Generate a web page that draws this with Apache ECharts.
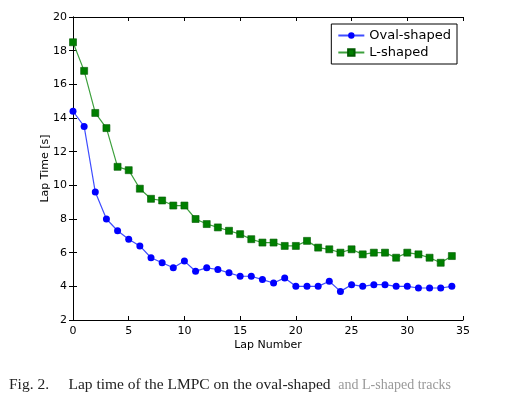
<!DOCTYPE html>
<html>
<head>
<meta charset="utf-8">
<script src="https://cdn.jsdelivr.net/npm/echarts@6/dist/echarts.min.js"></script>
<style>
  html, body { margin: 0; padding: 0; background: #fff; }
  #main { width: 517px; height: 404px; }
</style>
</head>
<body>
<div id="main"></div>
<script>
var laps = []
for (var i = 0; i <= 34; i++) laps.push(i)

var oval = [14.4, 13.5, 9.6, 8.0, 7.3, 6.8, 6.4, 5.7, 5.4, 5.1,
            5.5, 4.9, 5.1, 5.0, 4.8, 4.6, 4.6, 4.4, 4.2, 4.5,
            4.0, 4.0, 4.0, 4.3, 3.7, 4.1, 4.0, 4.1, 4.1, 4.0,
            4.0, 3.9, 3.9, 3.9, 4.0]
var lshape = [18.5, 16.8, 14.3, 13.4, 11.1, 10.9, 9.8, 9.2, 9.1, 8.8,
              8.8, 8.0, 7.7, 7.5, 7.3, 7.1, 6.8, 6.6, 6.6, 6.4,
              6.4, 6.7, 6.3, 6.2, 6.0, 6.2, 5.9, 6.0, 6.0, 5.7,
              6.0, 5.9, 5.7, 5.4, 5.8]

function pairs(ys) {
    var out = []
    for (var i = 0; i < ys.length; i++) out.push([laps[i], ys[i]])
    return out
}

var chart = echarts.init(document.getElementById('main'))
var font = 'DejaVu Sans'
var axisLine = { show: true, lineStyle: { color: '#000', width: 1 } }
var tickIn = { show: true, inside: true, length: 4, lineStyle: { color: '#000' } }

var option = {
    animation: false,
    title: {
        text: 'Fig. 2.     Lap time of the LMPC on the oval-shaped  {g|and L-shaped tracks}',
        left: 4,
        top: 372,
        textStyle: {
            fontFamily: 'Liberation Serif',
            fontWeight: 'normal',
            fontSize: 15.5,
            color: '#222',
            rich: { g: { fontFamily: 'Liberation Serif', fontSize: 14, color: '#999' } }
        }
    },
    legend: {
        right: 60,
        top: 24,
        orient: 'vertical',
        itemGap: 4,
        itemWidth: 26,
        itemHeight: 8,
        padding: [5, 6, 5, 6],
        borderColor: '#000',
        borderWidth: 1,
        borderRadius: 0,
        textStyle: { fontFamily: font, fontSize: 13, color: '#000' },
        data: ['Oval-shaped', 'L-shaped']
    },
    grid: { left: 73, right: 54, top: 17, bottom: 84 },
    xAxis: [{
        type: 'value', min: 0, max: 35, interval: 5,
        name: 'Lap Number', nameLocation: 'middle', nameGap: 20, nameMoveOverlap: false,
        nameTextStyle: { fontFamily: font, fontSize: 11, color: '#000' },
        axisLine: axisLine, axisTick: tickIn,
        axisLabel: { fontFamily: font, fontSize: 11, color: '#000', margin: 6 },
        splitLine: { show: false }
    }, {
        type: 'value', position: 'top', min: 0, max: 35, interval: 5,
        axisLine: axisLine, axisTick: tickIn,
        axisLabel: { show: false }, splitLine: { show: false }
    }],
    yAxis: [{
        type: 'value', min: 2, max: 20, interval: 2,
        name: 'Lap Time [s]', nameLocation: 'middle', nameGap: 22, nameMoveOverlap: false,
        nameTextStyle: { fontFamily: font, fontSize: 11, color: '#000' },
        axisLine: axisLine, axisTick: tickIn,
        axisLabel: { fontFamily: font, fontSize: 11, color: '#000', margin: 6 },
        splitLine: { show: false }
    }, {
        type: 'value', position: 'right', min: 2, max: 20, interval: 2,
        axisLine: axisLine, axisTick: tickIn,
        axisLabel: { show: false }, splitLine: { show: false }
    }],
    series: [{
        name: 'Oval-shaped',
        type: 'line',
        data: pairs(oval),
        symbol: 'circle',
        symbolSize: 7,
        itemStyle: { color: '#0000ff' },
        lineStyle: { color: '#3f4dff', width: 1.2 }
    }, {
        name: 'L-shaped',
        type: 'line',
        data: pairs(lshape),
        symbol: 'rect',
        symbolSize: 7,
        itemStyle: { color: '#007f00', borderColor: '#005a00', borderWidth: 0.6 },
        lineStyle: { color: '#3da03d', width: 1.2 }
    }]
}
chart.setOption(option)
</script>
</body>
</html>
